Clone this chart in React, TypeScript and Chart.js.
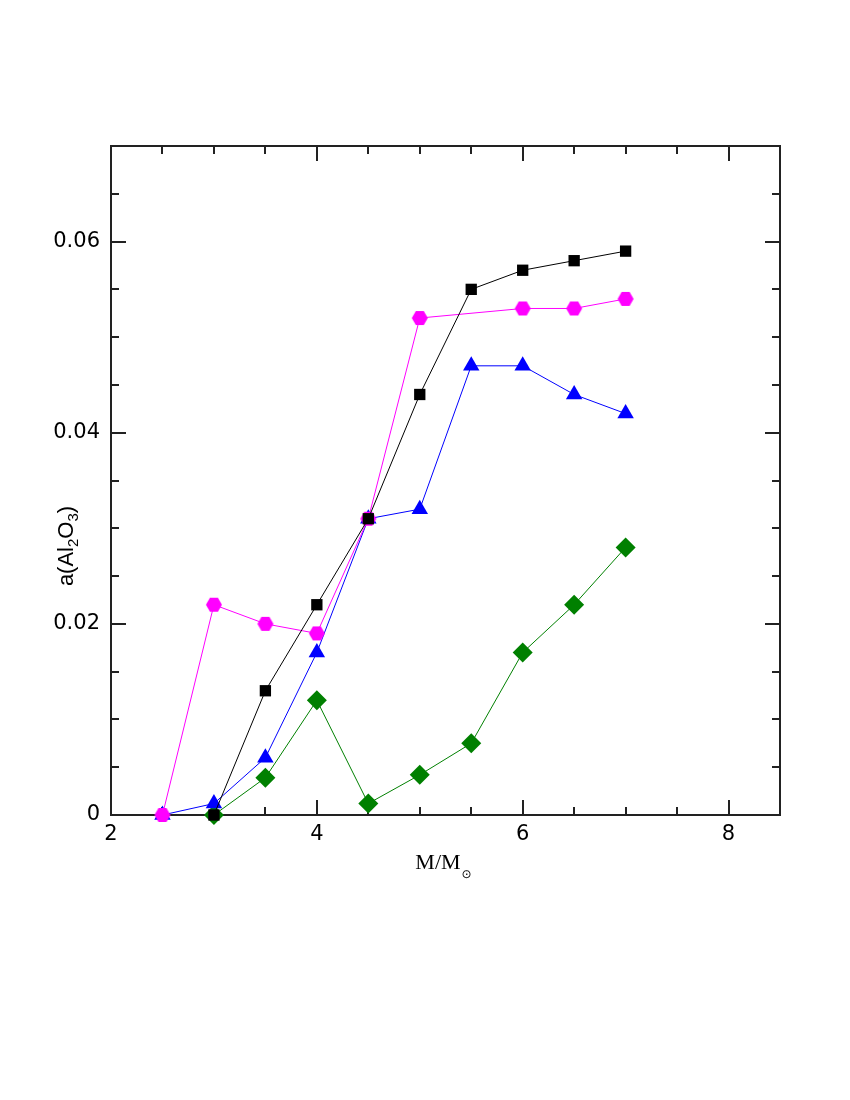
import React, { useEffect, useRef } from "react";
import { Chart, registerables } from "chart.js";

Chart.register(...registerables);

// ---- data ----
const xTickLabels = [2, 4, 6, 8];
const yTickLabels = [0, 0.02, 0.04, 0.06];
const xMinorStep = 0.5;
const yMinorStep = 0.005;

const massBlack = [3, 3.5, 4, 4.5, 5, 5.5, 6, 6.5, 7];
const alBlack = [0, 0.013, 0.022, 0.031, 0.044, 0.055, 0.057, 0.058, 0.059];

const massMagenta = [2.5, 3, 3.5, 4, 4.5, 5, 6, 6.5, 7];
const alMagenta = [0, 0.022, 0.02, 0.019, 0.031, 0.052, 0.053, 0.053, 0.054];

const massBlue = [2.5, 3, 3.5, 4, 4.5, 5, 5.5, 6, 6.5, 7];
const alBlue = [0, 0.0012, 0.006, 0.017, 0.031, 0.032, 0.047, 0.047, 0.044, 0.042];

const massGreen = [3, 3.5, 4, 4.5, 5, 5.5, 6, 6.5, 7];
const alGreen = [0, 0.0039, 0.012, 0.0012, 0.0042, 0.0075, 0.017, 0.022, 0.028];

const X_MIN = 2;
const X_MAX = 8.5;
const Y_MIN = 0;
const Y_MAX = 0.07;

const toPoints = (xs: number[], ys: number[]) => xs.map((x, i) => ({ x, y: ys[i] }));

function makeHexagon(color: string, r: number) {
  const c = document.createElement("canvas");
  const w = Math.ceil(2 * r + 2);
  const h = Math.ceil(Math.sqrt(3) * r + 2);
  c.width = w;
  c.height = h;
  const ctx = c.getContext("2d")!;
  ctx.fillStyle = color;
  ctx.beginPath();
  for (let k = 0; k < 6; k++) {
    const a = (Math.PI / 3) * k;
    const px = w / 2 + r * Math.cos(a);
    const py = h / 2 + r * Math.sin(a);
    if (k === 0) ctx.moveTo(px, py);
    else ctx.lineTo(px, py);
  }
  ctx.closePath();
  ctx.fill();
  return c;
}

const framePlugin = {
  id: "frameTicks",
  beforeDatasetsDraw(chart: any) {
    const { ctx, chartArea } = chart;
    const xs = chart.scales.x;
    const ys = chart.scales.y;
    const { left, right, top, bottom } = chartArea;
    ctx.save();
    ctx.strokeStyle = "#222";
    ctx.lineWidth = 2;
    ctx.strokeRect(left, top, right - left, bottom - top);
    ctx.beginPath();
    const eps = 1e-9;
    for (let v = X_MIN; v <= X_MAX + eps; v += xMinorStep) {
      const px = Math.round(xs.getPixelForValue(v));
      const major = xTickLabels.some((t) => Math.abs(t - v) < 1e-6);
      const len = major ? 15 : 8;
      ctx.moveTo(px, bottom);
      ctx.lineTo(px, bottom - len);
      ctx.moveTo(px, top);
      ctx.lineTo(px, top + len);
    }
    for (let v = Y_MIN; v <= Y_MAX + eps; v += yMinorStep) {
      const py = Math.round(ys.getPixelForValue(v));
      const major = yTickLabels.some((t) => Math.abs(t - v) < 1e-6);
      const len = major ? 15 : 8;
      ctx.moveTo(left, py);
      ctx.lineTo(left + len, py);
      ctx.moveTo(right, py);
      ctx.lineTo(right - len, py);
    }
    ctx.stroke();
    ctx.restore();
  },
  afterDraw(chart: any) {
    const { ctx, chartArea } = chart;
    ctx.save();
    ctx.fillStyle = "#000";
    // x title: M/M_sun
    const cx = (chartArea.left + chartArea.right) / 2 - 2;
    const mainF = '22px "Liberation Serif", "DejaVu Serif"';
    const subF = '12px "DejaVu Sans"';
    ctx.font = mainF;
    const main = "M/M";
    const wMain = ctx.measureText(main).width;
    ctx.font = subF;
    const sub = "\u2299";
    const wSub = ctx.measureText(sub).width;
    const total = wMain + wSub + 1;
    const x0 = cx - total / 2;
    ctx.textBaseline = "alphabetic";
    ctx.textAlign = "left";
    ctx.font = mainF;
    ctx.fillText(main, x0, 869);
    ctx.font = subF;
    ctx.fillText(sub, x0 + wMain + 1, 878);

    // y title: a(Al2O3), rotated
    ctx.translate(73, 546);
    ctx.rotate(-Math.PI / 2);
    const parts = [
      { t: "a(Al", s: false },
      { t: "2", s: true },
      { t: "O", s: false },
      { t: "3", s: true },
      { t: ")", s: false },
    ];
    const bigF = '22px "Liberation Sans", "DejaVu Sans"';
    const smallF = '15px "Liberation Sans", "DejaVu Sans"';
    let tw = 0;
    const widths = parts.map((p) => {
      ctx.font = p.s ? smallF : bigF;
      const w = ctx.measureText(p.t).width;
      tw += w;
      return w;
    });
    let xx = -tw / 2;
    parts.forEach((p, i) => {
      ctx.font = p.s ? smallF : bigF;
      ctx.fillText(p.t, xx, p.s ? 5 : 0);
      xx += widths[i];
    });
    ctx.restore();
  },
};

export default function App() {
  const ref = useRef<HTMLCanvasElement | null>(null);

  useEffect(() => {
    if (!ref.current) return;
    const hex = makeHexagon("#ff00ff", 8);
    const chart = new Chart(ref.current, {
      type: "line",
      data: {
        datasets: [
          {
            label: "black",
            data: toPoints(massBlack, alBlack),
            borderColor: "#000000",
            backgroundColor: "#000000",
            borderWidth: 1,
            pointStyle: "rect",
            pointRadius: 8,
            pointBorderWidth: 0,
            clip: false,
          },
          {
            label: "magenta",
            data: toPoints(massMagenta, alMagenta),
            borderColor: "#ff00ff",
            backgroundColor: "#ff00ff",
            borderWidth: 1,
            pointStyle: hex as any,
            pointRadius: 8,
            pointBorderWidth: 0,
            clip: false,
          },
          {
            label: "blue",
            data: toPoints(massBlue, alBlue),
            borderColor: "#0000ff",
            backgroundColor: "#0000ff",
            borderWidth: 1,
            pointStyle: "triangle",
            pointRadius: 9.5,
            pointBorderWidth: 0,
            clip: false,
          },
          {
            label: "green",
            data: toPoints(massGreen, alGreen),
            borderColor: "#008000",
            backgroundColor: "#008000",
            borderWidth: 1,
            pointStyle: "rectRot",
            pointRadius: 10,
            pointBorderWidth: 0,
            clip: false,
          },
        ],
      },
      options: {
        responsive: false,
        animation: false,
        events: [],
        layout: { padding: { left: 0, top: 146, right: 70, bottom: 225 } },
        plugins: { legend: { display: false }, tooltip: { enabled: false } },
        elements: { line: { tension: 0 } },
        scales: {
          x: {
            type: "linear",
            min: X_MIN,
            max: X_MAX,
            grid: { display: false, drawTicks: false },
            border: { display: false },
            afterBuildTicks: (s: any) => {
              s.ticks = xTickLabels.map((v) => ({ value: v }));
            },
            afterFit: (s: any) => {
              s.height = 60;
            },
            ticks: {
              padding: 7,
              color: "#000",
              font: { family: '"DejaVu Sans", "Liberation Sans"', size: 21 },
              callback: (v: any) => String(v),
              maxRotation: 0,
              autoSkip: false,
            },
          },
          y: {
            type: "linear",
            min: Y_MIN,
            max: Y_MAX,
            grid: { display: false, drawTicks: false },
            border: { display: false },
            afterBuildTicks: (s: any) => {
              s.ticks = yTickLabels.map((v) => ({ value: v }));
            },
            afterFit: (s: any) => {
              s.width = 111;
            },
            ticks: {
              padding: 11,
              color: "#000",
              font: { family: '"DejaVu Sans", "Liberation Sans"', size: 21 },
              callback: (v: any) => (v === 0 ? "0" : Number(v).toFixed(2)),
              autoSkip: false,
            },
          },
        },
      },
      plugins: [framePlugin],
    });
    return () => chart.destroy();
  }, []);

  return (
    <div style={{ position: "absolute", left: 0, top: 0, width: 850, height: 1100, background: "#fff" }}>
      <canvas ref={ref} width={850} height={1100} style={{ width: 850, height: 1100, display: "block" }} />
    </div>
  );
}
